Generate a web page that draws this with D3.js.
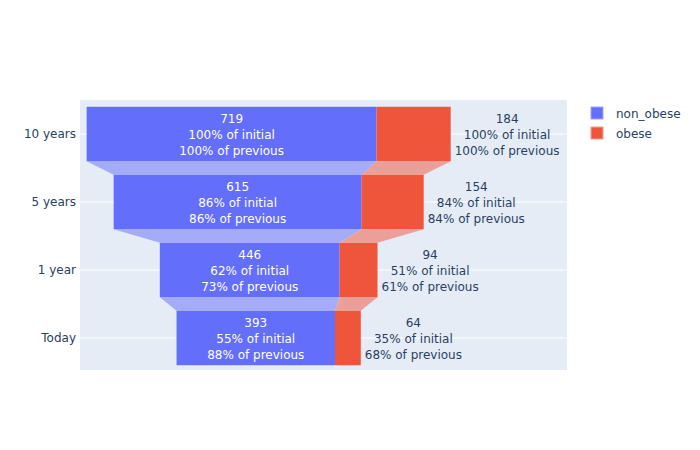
<!DOCTYPE html>
<html><head><meta charset="utf-8">
<script src="https://cdn.jsdelivr.net/npm/d3@7"></script>
<style>body{margin:0;background:#fff}svg{font-family:"DejaVu Sans",verdana,arial,sans-serif}</style>
</head><body>
<svg id="c" width="700" height="450"></svg>
<script>
const categories = ["10 years", "5 years", "1 year", "Today"];
const nonObese = [719, 615, 446, 393];
const obese = [184, 154, 94, 64];
const seriesNames = ["non_obese", "obese"];

const W = 700, H = 450;
const plot = {l: 80, r: 567, t: 100, b: 370};
const FONT = '"DejaVu Sans",verdana,arial,sans-serif';
const svg = d3.select("#c");
const colors = ["#636efa", "#EF553B"];
const connColors = ["rgb(164,172,248)", "rgb(234,160,152)"];
const textDark = "#2a3f5f";

svg.append("rect").attr("x", plot.l).attr("y", plot.t)
  .attr("width", plot.r - plot.l).attr("height", plot.b - plot.t).attr("fill", "#e5ecf6");

const x = d3.scaleLinear().domain([-468, 740]).range([plot.l, plot.r]);
const y = d3.scaleBand().domain(categories).range([plot.t, plot.t + 272]).paddingInner(0.2).paddingOuter(0.1);

// gridlines
svg.append("g").selectAll("line").data(categories).join("line")
  .attr("x1", plot.l).attr("x2", plot.r)
  .attr("y1", d => y(d) + y.bandwidth() / 2).attr("y2", d => y(d) + y.bandwidth() / 2)
  .attr("stroke", "#fff").attr("stroke-width", 1);

// y axis labels
const yAxis = d3.axisLeft(y).tickSize(0).tickPadding(4);
const ga = svg.append("g").attr("transform", `translate(${plot.l},0)`).call(yAxis);
ga.select(".domain").remove();
ga.selectAll("text").attr("font-size", 12).attr("fill", textDark).attr("font-family", FONT);

// compute rows
const series = [nonObese, obese];
const rows = categories.map((c, i) => {
  const total = nonObese[i] + obese[i];
  const x0 = -total / 2;
  return {c, i, segs: [[x0, x0 + nonObese[i]], [x0 + nonObese[i], total / 2]]};
});

// connectors
for (let i = 0; i < rows.length - 1; i++) {
  const a = rows[i], b = rows[i + 1];
  const yb = y(a.c) + y.bandwidth(), yt = y(b.c);
  for (let s = 0; s < 2; s++) {
    const pts = [[x(a.segs[s][0]), yb], [x(a.segs[s][1]), yb], [x(b.segs[s][1]), yt], [x(b.segs[s][0]), yt]];
    svg.append("path").attr("d", d3.line()(pts) + "Z").attr("fill", connColors[s]);
  }
}

// bars
rows.forEach(r => {
  for (let s = 0; s < 2; s++) {
    svg.append("rect").attr("x", x(r.segs[s][0])).attr("y", y(r.c))
      .attr("width", x(r.segs[s][1]) - x(r.segs[s][0])).attr("height", y.bandwidth())
      .attr("fill", colors[s]);
  }
});

const pct = d3.format(".0%");
function labelLines(s, i) {
  const v = series[s];
  return [String(v[i]), pct(v[i] / v[0]) + " of initial", pct(v[i] / v[i > 0 ? i - 1 : 0]) + " of previous"];
}

rows.forEach(r => {
  const cy = y(r.c) + y.bandwidth() / 2;
  const cx = (x(r.segs[0][0]) + x(r.segs[0][1])) / 2;
  const g = svg.append("g");
  labelLines(0, r.i).forEach((t, k) => {
    g.append("text").attr("x", cx).attr("y", cy + (k - 1) * 16 + 4.5)
      .attr("text-anchor", "middle").attr("font-size", 12).attr("fill", "#fff").text(t);
  });
  const g2 = svg.append("g");
  const lines = labelLines(1, r.i);
  const tx = lines.map((t, k) => g2.append("text").attr("y", cy + (k - 1) * 16 + 4.5)
      .attr("text-anchor", "middle").attr("font-size", 12).attr("fill", textDark).text(t));
  const maxW = d3.max(tx, t => t.node().getComputedTextLength());
  const ox = x(r.segs[1][1]) + 4 + maxW / 2;
  tx.forEach(t => t.attr("x", ox));
});

// legend
const lg = svg.append("g").attr("transform", "translate(591,107)");
seriesNames.forEach((n, k) => {
  lg.append("rect").attr("x", 0).attr("y", k * 20).attr("width", 12).attr("height", 12)
    .attr("fill", colors[k]).attr("stroke", k === 0 ? "rgb(160,166,250)" : "rgb(245,160,150)").attr("stroke-width", 1);
  lg.append("text").attr("x", 25).attr("y", k * 20 + 10.5).attr("font-size", 12).attr("fill", textDark).text(n);
});
</script>
</body></html>
